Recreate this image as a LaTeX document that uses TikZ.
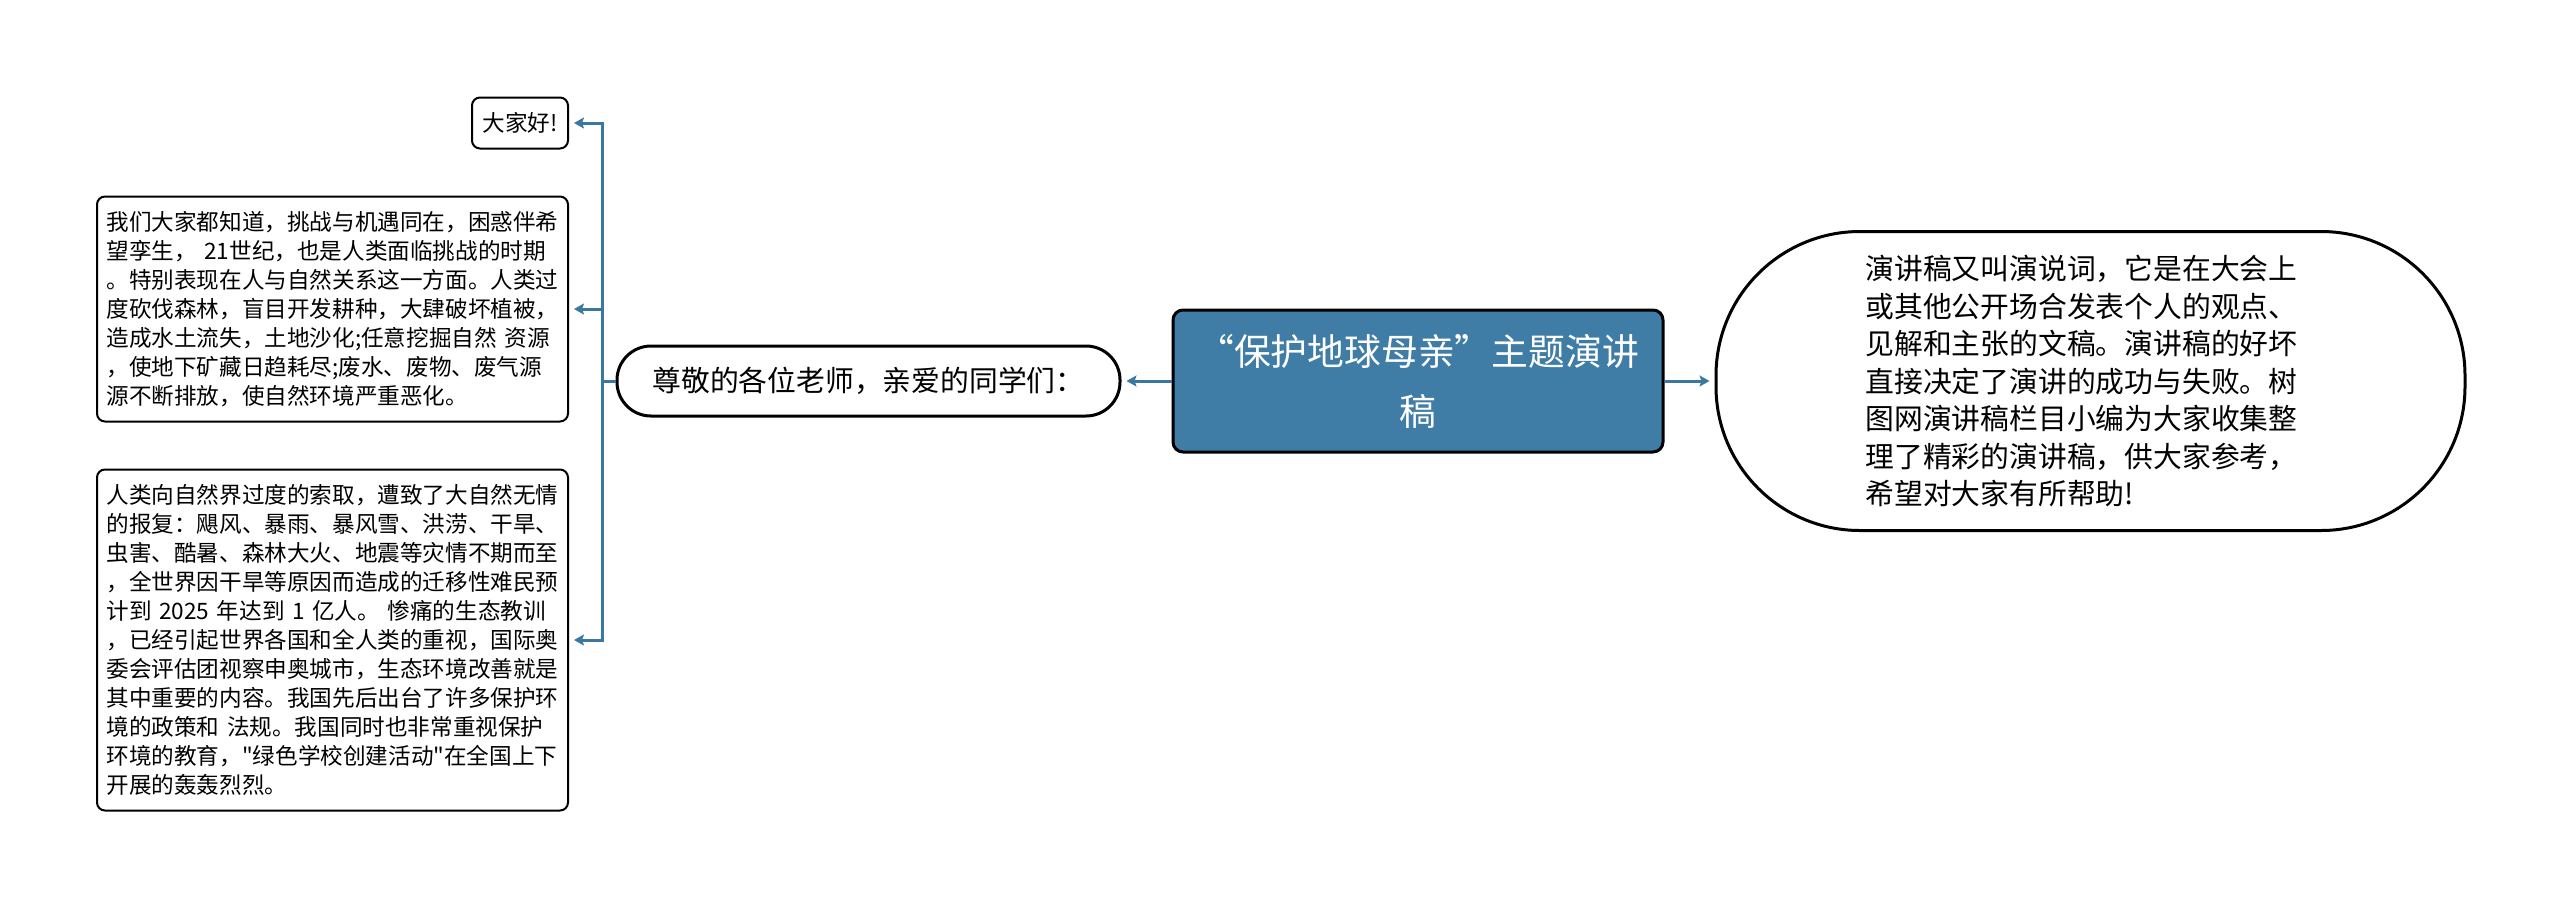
\documentclass[tikz,border=0pt]{standalone}
\usepackage{fontspec}
\setmainfont{Noto Sans CJK SC}[Ligatures=TeXOff]
\usepackage{tikz}
\usetikzlibrary{arrows.meta,positioning}
\definecolor{steelblue}{rgb}{0.25,0.49,0.65}
\definecolor{linkblue}{rgb}{0.23,0.47,0.63}
\tikzset{
  tema/.style={
    rounded corners=5pt,
    draw=black,
    line width=1.5pt,
    fill=steelblue,
    text=white,
    align=center,
    minimum width=245pt,
    minimum height=71pt,
    inner sep=0pt,
    font={\fontsize{18.4pt}{30pt}\selectfont}
  },
  rama/.style={
    rounded corners=17pt,
    draw=black,
    line width=1.5pt,
    fill=white,
    align=center,
    minimum width=251.5pt,
    minimum height=35pt,
    inner sep=0pt,
    font={\fontsize{14.4pt}{18.75pt}\selectfont}
  },
  nota/.style={
    rounded corners=72pt,
    draw=black,
    line width=1.5pt,
    fill=white,
    align=left,
    text width=225pt,
    minimum width=374.5pt,
    minimum height=149.5pt,
    inner sep=0pt,
    font={\fontsize{14.4pt}{18.75pt}\selectfont}
  },
  hoja/.style={
    rounded corners=4pt,
    draw=black,
    line width=1pt,
    fill=white,
    align=left,
    inner xsep=4.75pt,
    inner ysep=0pt,
    anchor=east,
    font={\fontsize{11.3pt}{14.5pt}\selectfont}
  },
  link/.style={
    line width=1.5pt,
    linkblue
  },
  arrow/.style={
    -{Stealth[length=5pt,width=5.5pt,inset=1pt]},
    line width=1.5pt,
    linkblue,
    shorten >=2.5pt
  }
}
\begin{document}
\begin{tikzpicture}[x=0.5pt,y=-0.5pt,node distance=25pt]
\useasboundingbox (0,0) rectangle (2560,907);
\node[tema] (a) at (1418,381) {“保护地球母亲”主题演讲\\稿};
\node[rama,left=of a] (b) {尊敬的各位老师，亲爱的同学们：};
\node[nota,right=of a] (c) {演讲稿又叫演说词，它是在大会上\\或其他公开场合发表个人的观点、\\见解和主张的文稿。演讲稿的好坏\\直接决定了演讲的成功与失败。树\\图网演讲稿栏目小编为大家收集整\\理了精彩的演讲稿，供大家参考，\\希望对大家有所帮助!};
\node[hoja,align=center,minimum width=48pt,minimum height=25.5pt] (h1) at (569,123) {大家好!};
\node[hoja,text width=226pt,minimum height=112.5pt] (h2) at (569,309) {我们大家都知道，挑战与机遇同在，困惑伴希\\望孪生， 21世纪，也是人类面临挑战的时期\\。特别表现在人与自然关系这一方面。人类过\\度砍伐森林，盲目开发耕种，大肆破坏植被，\\造成水土流失，土地沙化;任意挖掘自然 资源\\，使地下矿藏日趋耗尽;废水、废物、废气源\\源不断排放，使自然环境严重恶化。};
\node[hoja,text width=226pt,minimum height=170.5pt] (h3) at (569,640) {人类向自然界过度的索取，遭致了大自然无情\\的报复：飓风、暴雨、暴风雪、洪涝、干旱、\\虫害、酷暑、森林大火、地震等灾情不期而至\\，全世界因干旱等原因而造成的迁移性难民预\\计到 2025 年达到 1 亿人。 惨痛的生态教训\\，已经引起世界各国和全人类的重视，国际奥\\委会评估团视察申奥城市，生态环境改善就是\\其中重要的内容。我国先后出台了许多保护环\\境的政策和 法规。我国同时也非常重视保护\\环境的教育，"绿色学校创建活动"在全国上下\\开展的轰轰烈烈。};
\coordinate (f) at (602,381);
\draw[arrow] (a.west) -- (b.east);
\draw[arrow] (a.east) -- (c.west);
\draw[link] (b.west) -- (f);
\draw[arrow] (f) |- (h1.east);
\draw[arrow] (f) |- (h2.east);
\draw[arrow] (f) |- (h3.east);
\end{tikzpicture}
\end{document}
